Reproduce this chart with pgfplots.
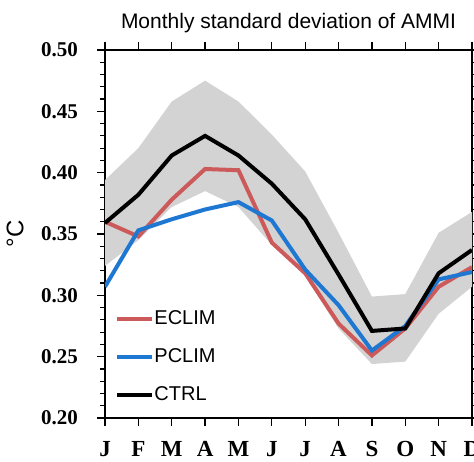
\documentclass[border=0pt]{standalone}
\usepackage{fontspec}
\setmainfont{Liberation Sans}
\newfontfamily\tnr{Liberation Serif}
\usepackage{pgfplots}
\pgfplotsset{compat=1.18}
\usetikzlibrary{calc}
\definecolor{eclim}{RGB}{205,90,90}
\definecolor{pclim}{RGB}{30,120,210}
\definecolor{band}{RGB}{211,211,211}

\begin{document}
\begin{tikzpicture}
\begin{axis}[
  name=ax, at={(0,0)}, anchor=south west,
  scale only axis, width=183.5pt, height=184pt,
  xmin=1, xmax=12, ymin=0.2, ymax=0.5,
  xtick={1,2,3,4,5,6,7,8,9,10,11,12},
  xticklabels={J,F,M,A,M,J,J,A,S,O,N,D},
  ytick={0.2,0.25,0.3,0.35,0.4,0.45,0.5},
  minor y tick num=4,
  tick align=outside,
  major tick length=4pt, minor tick length=2.5pt,
  axis line style={line width=0.6pt},
  every tick/.style={black, line width=0.6pt},
  yticklabel style={/pgf/number format/fixed, /pgf/number format/fixed zerofill,
    /pgf/number format/precision=2, /pgf/number format/assume math mode=true,
    font=\tnr\bfseries\fontsize{10.5}{12}\selectfont, xshift=-6pt},
  xticklabel style={font=\tnr\bfseries\fontsize{11.5}{13}\selectfont, yshift=-4pt},
  title={Monthly standard deviation of AMMI},
  title style={font=\fontsize{10.5}{12}\selectfont, at={(0.5,1)}, anchor=base, yshift=5pt},
  ylabel={°C},
  every axis y label/.style={at={(axis description cs:-0.245,0.5)}, rotate=90, anchor=center,
    font=\fontsize{12}{14}\selectfont},
  legend style={at={(axis cs:1.3,0.2495)}, anchor=west, draw=none, fill=none,
    inner sep=0pt, row sep=10.5pt, font=\fontsize{10}{12}\selectfont,
    nodes={inner sep=0pt}},
  legend cell align=left,
  legend image code/.code={\draw[#1, line width=2pt] (0pt,0pt) -- (17.5pt,0pt);},
]
\addplot[fill=band, draw=none, forget plot] coordinates {
  (1,0.394) (2,0.420) (3,0.458) (4,0.475) (5,0.458) (6,0.431)
  (7,0.401) (8,0.351) (9,0.299) (10,0.301) (11,0.351) (12,0.368)
  (12,0.307) (11,0.285) (10,0.246) (9,0.244) (8,0.273) (7,0.316)
  (6,0.341) (5,0.372) (4,0.385) (3,0.372) (2,0.345) (1,0.324)
} -- cycle;
\addplot[eclim, line width=2pt] coordinates {
  (1,0.360) (2,0.348) (3,0.378) (4,0.403) (5,0.402) (6,0.343)
  (7,0.318) (8,0.277) (9,0.251) (10,0.273) (11,0.307) (12,0.323)
};
\addplot[pclim, line width=2pt] coordinates {
  (1,0.307) (2,0.353) (3,0.362) (4,0.370) (5,0.376) (6,0.361)
  (7,0.321) (8,0.292) (9,0.255) (10,0.275) (11,0.313) (12,0.319)
};
\addplot[black, line width=2pt] coordinates {
  (1,0.359) (2,0.382) (3,0.414) (4,0.430) (5,0.414) (6,0.391)
  (7,0.362) (8,0.317) (9,0.271) (10,0.273) (11,0.318) (12,0.337)
};
\legend{ECLIM,PCLIM,CTRL}
\end{axis}
\pgfresetboundingbox
\path[use as bounding box] ($(ax.south west)+(-52.5pt,-21.5pt)$) rectangle ($(ax.south west)+(184.5pt,209pt)$);
\end{tikzpicture}
\end{document}
